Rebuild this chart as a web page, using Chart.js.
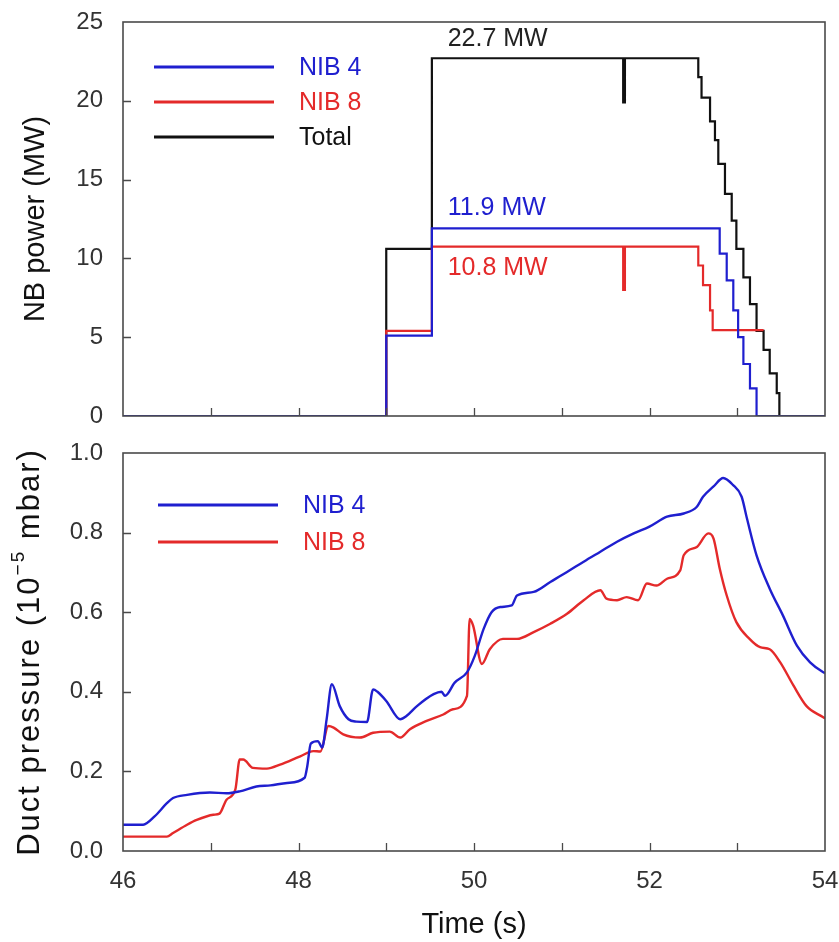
<!DOCTYPE html>
<html><head><meta charset="utf-8">
<script src="https://cdn.jsdelivr.net/npm/chart.js@4.4.1/dist/chart.umd.min.js"></script>
<style>
html,body{margin:0;padding:0;background:#fff;}
#wrap{position:relative;width:839px;height:942px;overflow:hidden;background:#fff;}
canvas{position:absolute;left:0;}
#c1{top:0;}
#c2{top:436px;}
</style></head><body>
<div id="wrap"><canvas id="c1" width="839" height="436"></canvas><canvas id="c2" width="839" height="506"></canvas></div>
<script>
// ---------- DATA ----------
// Top panel: NB power step traces (each value holds from its time until the next time)
const powerTimeNIB4  = [46, 49.0, 49.52, 52.80, 52.88, 52.955, 53.01, 53.07, 53.145, 53.22, 54];
const powerNIB4      = [0,  5.1,  11.9,  10.3,  8.6,   6.7,    5.0,   3.3,   1.75,   0,     0];
const powerTimeNIB8  = [46, 49.0, 49.52, 51.70, 51.72, 52.556, 52.61, 52.69, 52.72, 53.30];
const powerNIB8      = [0,  5.4,  10.75, 8.0,   10.75, 9.55,   8.3,   6.7,   5.45,  5.45];
const powerTimeTotal = [46, 49.0, 49.52, 51.70, 51.72, 52.556, 52.593, 52.69, 52.746, 52.784, 52.86, 52.937, 52.99, 53.07, 53.145, 53.22, 53.30, 53.37, 53.45, 53.48, 54];
const powerTotal     = [0,  10.6, 22.7,  19.9,  22.7,  21.5,   20.2,   18.7,  17.5,   16.0,   14.1,  12.4,   10.6,  8.8,   7.1,    5.4,   4.2,   2.7,   1.45,  0,     0];

// Bottom panel: duct pressure (10^-5 mbar)
const pressTimeNIB4 = [46.0, 46.23, 46.36, 46.5, 46.57, 46.73, 46.99, 47.18, 47.33, 47.52, 47.68, 47.87, 48.07, 48.1, 48.14, 48.22, 48.27, 48.32, 48.38, 48.47, 48.57, 48.66, 48.78, 48.85, 48.9, 49.0, 49.16, 49.23, 49.35, 49.54, 49.63, 49.67, 49.78, 49.92, 50.01, 50.11, 50.2, 50.30, 50.43, 50.49, 50.68, 50.87, 51.06, 51.25, 51.44, 51.63, 51.82, 52.0, 52.2, 52.39, 52.54, 52.61, 52.73, 52.84, 52.95, 53.05, 53.11, 53.22, 53.37, 53.52, 53.68, 53.83, 53.98, 54.0];
const pressNIB4     = [0.066, 0.066, 0.087, 0.12, 0.133, 0.141, 0.147, 0.145, 0.150, 0.162, 0.165, 0.171, 0.184, 0.213, 0.27, 0.276, 0.26, 0.33, 0.419, 0.364, 0.331, 0.325, 0.324, 0.406, 0.40, 0.377, 0.331, 0.339, 0.364, 0.394, 0.40, 0.39, 0.423, 0.449, 0.491, 0.558, 0.60, 0.613, 0.617, 0.642, 0.651, 0.676, 0.701, 0.727, 0.752, 0.777, 0.798, 0.815, 0.84, 0.848, 0.865, 0.89, 0.916, 0.937, 0.92, 0.89, 0.836, 0.743, 0.659, 0.592, 0.516, 0.474, 0.449, 0.447];
const pressTimeNIB8 = [46.0, 46.5, 46.57, 46.73, 46.84, 47.03, 47.1, 47.18, 47.28, 47.33, 47.37, 47.48, 47.64, 47.79, 48.02, 48.17, 48.25, 48.34, 48.4, 48.51, 48.70, 48.85, 49.04, 49.16, 49.27, 49.46, 49.65, 49.76, 49.92, 49.95, 49.99, 50.09, 50.18, 50.33, 50.49, 50.68, 50.87, 51.06, 51.25, 51.44, 51.51, 51.63, 51.74, 51.87, 51.97, 52.08, 52.20, 52.35, 52.39, 52.54, 52.67, 52.73, 52.80, 52.88, 52.99, 53.14, 53.26, 53.37, 53.49, 53.64, 53.79, 53.98, 54.0];
const pressNIB8     = [0.036, 0.036, 0.045, 0.066, 0.078, 0.091, 0.094, 0.129, 0.154, 0.23, 0.23, 0.209, 0.207, 0.217, 0.238, 0.251, 0.25, 0.314, 0.31, 0.293, 0.285, 0.297, 0.30, 0.285, 0.306, 0.327, 0.343, 0.356, 0.39, 0.583, 0.566, 0.47, 0.507, 0.533, 0.533, 0.55, 0.571, 0.596, 0.63, 0.655, 0.634, 0.63, 0.638, 0.63, 0.672, 0.667, 0.684, 0.705, 0.743, 0.764, 0.798, 0.785, 0.71, 0.642, 0.575, 0.533, 0.512, 0.507, 0.474, 0.416, 0.364, 0.336, 0.333];

// Axis ticks / labels
const timeTickLabels   = [46, 48, 50, 52, 54];
const timeMinorTicks   = [47, 48, 49, 50, 51, 52, 53];
const powerTicks       = [0, 5, 10, 15, 20, 25];
const pressureTicks    = [0.0, 0.2, 0.4, 0.6, 0.8, 1.0];
const seriesNames      = ['NIB 4', 'NIB 8', 'Total'];
const powerNotes       = ['22.7 MW', '11.9 MW', '10.8 MW'];
const powerNoteAt      = [[49.70, 23.9], [49.70, 13.2], [49.70, 9.37]];
const pressureTitle    = ['Duct pressure (10', '\u22125', ' mbar)'];

// ---------- STYLE ----------
const FONT = "'Liberation Sans', Arial, Helvetica, sans-serif";
const BLUE = '#1f1fcf', RED = '#e42a2a', BLACK = '#111111';
const pts = (xs, ys) => xs.map((x, i) => ({x: x, y: ys[i]}));

const framePlugin = {
  id: 'frameTicks',
  afterDraw(chart, args, o) {
    const {ctx, chartArea: a, scales} = chart;
    ctx.save();
    ctx.strokeStyle = '#4a4a4a'; ctx.lineWidth = 1.6;
    ctx.strokeRect(a.left, a.top, a.right - a.left, a.bottom - a.top);
    ctx.beginPath();
    o.yTicks.forEach(v => {
      if (v <= scales.y.min || v >= scales.y.max) return;
      const y = Math.round(scales.y.getPixelForValue(v)) + 0.5;
      ctx.moveTo(a.left, y); ctx.lineTo(a.left + 8, y);
    });
    o.xTicks.forEach(v => {
      const x = Math.round(scales.x.getPixelForValue(v)) + 0.5;
      ctx.moveTo(x, a.bottom); ctx.lineTo(x, a.bottom - 8);
    });
    ctx.lineWidth = 1.3; ctx.stroke();
    // legend
    ctx.font = '25px ' + FONT; ctx.textBaseline = 'middle'; ctx.textAlign = 'left';
    chart.data.datasets.forEach((ds, i) => {
      const y = a.top + o.legendTop + i * o.legendGap;
      ctx.strokeStyle = ds.borderColor; ctx.lineWidth = 3;
      ctx.beginPath(); ctx.moveTo(a.left + o.legendLeft, y); ctx.lineTo(a.left + o.legendLeft + 120, y); ctx.stroke();
      ctx.fillStyle = ds.borderColor;
      ctx.fillText(ds.label, a.left + o.legendLeft + 145, y + 1);
    });
    // annotations
    (o.notes || []).forEach(n => {
      ctx.font = '25px ' + FONT; ctx.fillStyle = n.color; ctx.textAlign = 'left'; ctx.textBaseline = 'middle';
      ctx.fillText(n.text, scales.x.getPixelForValue(n.x), scales.y.getPixelForValue(n.y));
    });
    // custom rotated y title with superscript
    if (o.yTitle) {
      const parts = o.yTitle;
      const sizes = [31, 19, 31], raise = [0, -11, 0];
      if ('letterSpacing' in ctx) ctx.letterSpacing = '2px';
      let total = 0;
      const widths = parts.map((t, i) => { ctx.font = sizes[i] + 'px ' + FONT; const w = ctx.measureText(t).width; total += w; return w; });
      const cy = (a.top + a.bottom) / 2;
      ctx.translate(o.yTitleX, cy + total / 2);
      ctx.rotate(-Math.PI / 2);
      ctx.fillStyle = '#111'; ctx.textAlign = 'left'; ctx.textBaseline = 'middle';
      let x = 0;
      parts.forEach((t, i) => { ctx.font = sizes[i] + 'px ' + FONT; ctx.fillText(t, x, raise[i]); x += widths[i]; });
    }
    ctx.restore();
  }
};

function yAxis(min, max, ticksArr, title, titlePadTop, fmt) {
  return {
    type: 'linear', min: min, max: max,
    afterBuildTicks: s => { s.ticks = ticksArr.map(v => ({value: v})); },
    afterFit: s => { s.width = 123; s.paddingTop = 0; s.paddingBottom = 0; },
    grid: {display: false, drawTicks: false}, border: {display: false},
    ticks: {color: '#333', font: {family: FONT, size: 24}, padding: 20, callback: fmt},
    title: {display: !!title, text: title || '', color: '#111', font: {family: FONT, size: 29}, padding: {top: titlePadTop, bottom: 0}}
  };
}

Chart.defaults.font.family = FONT;

// ---------- TOP CHART ----------
new Chart(document.getElementById('c1'), {
  type: 'line',
  data: {datasets: [
    {label: seriesNames[0], data: pts(powerTimeNIB4, powerNIB4), borderColor: BLUE, borderWidth: 2.2, stepped: 'before', pointRadius: 0, fill: false},
    {label: seriesNames[1], data: pts(powerTimeNIB8, powerNIB8), borderColor: RED, borderWidth: 2.2, stepped: 'before', pointRadius: 0, fill: false},
    {label: seriesNames[2], data: pts(powerTimeTotal, powerTotal), borderColor: BLACK, borderWidth: 2.2, stepped: 'before', pointRadius: 0, fill: false}
  ]},
  options: {
    responsive: false, animation: false, devicePixelRatio: 1,
    layout: {padding: {top: 22, right: 14, bottom: 20, left: 0}},
    scales: {
      x: {type: 'linear', min: 46, max: 54, display: false},
      y: yAxis(0, 25, powerTicks, 'NB power (MW)', 19, v => String(v))
    },
    plugins: {
      legend: {display: false}, tooltip: {enabled: false},
      frameTicks: {
        yTicks: powerTicks, xTicks: timeMinorTicks,
        legendLeft: 31, legendTop: 45, legendGap: 35,
        notes: [
          {text: powerNotes[0], x: powerNoteAt[0][0], y: powerNoteAt[0][1], color: '#222'},
          {text: powerNotes[1], x: powerNoteAt[1][0], y: powerNoteAt[1][1], color: BLUE},
          {text: powerNotes[2], x: powerNoteAt[2][0], y: powerNoteAt[2][1], color: RED}
        ]
      }
    }
  },
  plugins: [framePlugin]
});

// ---------- BOTTOM CHART ----------
new Chart(document.getElementById('c2'), {
  type: 'line',
  data: {datasets: [
    {label: seriesNames[0], data: pts(pressTimeNIB4, pressNIB4), borderColor: BLUE, borderWidth: 2.4, pointRadius: 0, fill: false, tension: 0.25, cubicInterpolationMode: 'monotone'},
    {label: seriesNames[1], data: pts(pressTimeNIB8, pressNIB8), borderColor: RED, borderWidth: 2.4, pointRadius: 0, fill: false, tension: 0.25, cubicInterpolationMode: 'monotone'}
  ]},
  options: {
    responsive: false, animation: false, devicePixelRatio: 1,
    layout: {padding: {top: 17, right: 14, bottom: 0, left: 0}},
    scales: {
      x: {
        type: 'linear', min: 46, max: 54,
        afterBuildTicks: s => { s.ticks = timeTickLabels.map(v => ({value: v})); },
        afterFit: s => { s.height = 91; s.paddingLeft = 0; s.paddingRight = 0; },
        grid: {display: false, drawTicks: false}, border: {display: false},
        ticks: {color: '#333', font: {family: FONT, size: 24}, padding: 16, maxRotation: 0, autoSkip: false, callback: v => String(v)},
        title: {display: true, text: 'Time (s)', color: '#111', font: {family: FONT, size: 29}, padding: {top: 0, bottom: 0}}
      },
      y: yAxis(0, 1.0, pressureTicks, null, 14, v => Number(v).toFixed(1))
    },
    plugins: {
      legend: {display: false}, tooltip: {enabled: false},
      frameTicks: {
        yTicks: pressureTicks, xTicks: timeMinorTicks,
        legendLeft: 35, legendTop: 52, legendGap: 37,
        yTitle: pressureTitle, yTitleX: 30
      }
    }
  },
  plugins: [framePlugin]
});
</script>
</body></html>
